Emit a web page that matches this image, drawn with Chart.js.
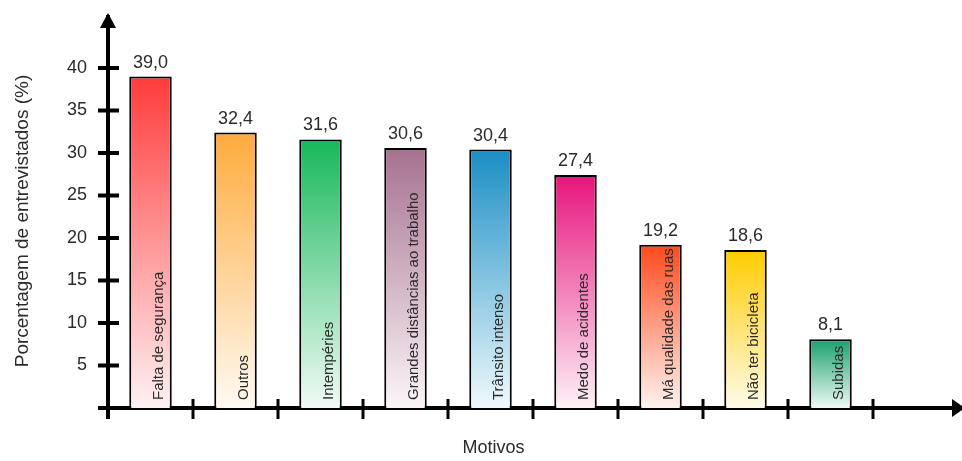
<!DOCTYPE html>
<html>
<head>
<meta charset="utf-8">
<script src="https://cdn.jsdelivr.net/npm/chart.js@4/dist/chart.umd.min.js"></script>
<style>
  html, body { margin: 0; padding: 0; background: #ffffff; }
  #wrap { width: 962px; height: 461px; }
</style>
</head>
<body>
<div id="wrap"><canvas id="grafico" width="962" height="461"></canvas></div>
<script>
// Motivos citados e percentual de entrevistados
const motivos = [
  'Falta de segurança', 'Outros', 'Intempéries', 'Grandes distâncias ao trabalho',
  'Trânsito intenso', 'Medo de acidentes', 'Má qualidade das ruas', 'Não ter bicicleta', 'Subidas'
];
const percentuais = [39.0, 32.4, 31.6, 30.6, 30.4, 27.4, 19.2, 18.6, 8.1];
const yTicks = [5, 10, 15, 20, 25, 30, 35, 40];

// Degradê de cada barra: cor do topo e cor da base
const coresTopo = ['#ff3b3b', '#ffab3d', '#17b85a', '#a6718f', '#1a8ec4', '#e8157c', '#ff4a1c', '#ffcc00', '#19a06a'];
const coresBase = ['#fff1f3', '#fffaf2', '#f1fbf5', '#fbf5f8', '#eff9fd', '#fdf1f7', '#fff3ef', '#fffbe9', '#eefaf4'];

const FONTE = "'Liberation Sans', Arial, sans-serif";
const COR_TEXTO = '#2b2b2b';

const rotulos = [...motivos, ''];
const valores = [...percentuais, null];

function formatar(v) { return v.toFixed(1).replace('.', ','); }

// Eixos com marcas cruzadas, setas, títulos e rótulos das barras
const decoracao = {
  id: 'decoracao',
  afterDatasetsDraw(chart) {
    const { ctx } = chart;
    const meta = chart.getDatasetMeta(0);
    const y = chart.scales.y;
    ctx.save();
    meta.data.forEach((bar, i) => {
      const v = valores[i];
      if (v == null) return;
      // valor acima da barra
      ctx.fillStyle = COR_TEXTO;
      ctx.font = `18px ${FONTE}`;
      ctx.textAlign = 'center';
      ctx.textBaseline = 'alphabetic';
      ctx.fillText(formatar(v), bar.x, bar.y - 9);
      // nome do motivo, vertical, dentro da barra
      ctx.save();
      ctx.translate(bar.x + 12.5, y.getPixelForValue(0) - 8);
      ctx.rotate(-Math.PI / 2);
      ctx.font = `15px ${FONTE}`;
      ctx.textAlign = 'left';
      ctx.fillText(motivos[i], 0, 0);
      ctx.restore();
    });
    ctx.restore();
  },
  afterDraw(chart) {
    const { ctx, chartArea: a } = chart;
    const x = chart.scales.x, y = chart.scales.y;
    const y0 = y.getPixelForValue(0);
    ctx.save();
    ctx.strokeStyle = '#000';
    ctx.fillStyle = '#000';
    ctx.lineCap = 'butt';

    // marcas do eixo y
    ctx.lineWidth = 4;
    yTicks.forEach(t => {
      const py = y.getPixelForValue(t);
      ctx.beginPath(); ctx.moveTo(a.left - 10, py); ctx.lineTo(a.left + 11, py); ctx.stroke();
    });
    // prolongamentos na origem
    ctx.beginPath(); ctx.moveTo(a.left - 10, y0); ctx.lineTo(a.left, y0); ctx.stroke();
    ctx.beginPath(); ctx.moveTo(a.left, y0); ctx.lineTo(a.left, y0 + 11); ctx.stroke();

    // marcas do eixo x entre categorias
    ctx.lineWidth = 3;
    for (let i = 1; i <= motivos.length; i++) {
      const px = (x.getPixelForValue(i - 1) + x.getPixelForValue(i)) / 2;
      ctx.beginPath(); ctx.moveTo(px, y0 - 9); ctx.lineTo(px, y0 + 11); ctx.stroke();
    }

    // setas
    ctx.beginPath();
    ctx.moveTo(a.left, a.top - 4);
    ctx.lineTo(a.left - 8, a.top + 11);
    ctx.lineTo(a.left + 8, a.top + 11);
    ctx.closePath(); ctx.fill();
    ctx.beginPath();
    ctx.moveTo(a.right + 7, y0);
    ctx.lineTo(a.right - 6, y0 - 9);
    ctx.lineTo(a.right - 6, y0 + 9);
    ctx.closePath(); ctx.fill();

    // títulos dos eixos
    ctx.fillStyle = COR_TEXTO;
    ctx.font = `18px ${FONTE}`;
    ctx.textAlign = 'center';
    ctx.textBaseline = 'alphabetic';
    const centroX = (x.getPixelForValue(0) + x.getPixelForValue(motivos.length - 1)) / 2 + 3;
    ctx.fillText('Motivos', centroX, 453);

    ctx.save();
    ctx.translate(28, 221);
    ctx.rotate(-Math.PI / 2);
    ctx.font = `19px ${FONTE}`;
    ctx.fillText('Porcentagem de entrevistados (%)', 0, 0);
    ctx.restore();

    ctx.restore();
  }
};

new Chart(document.getElementById('grafico'), {
  type: 'bar',
  data: {
    labels: rotulos,
    datasets: [{
      data: valores,
      backgroundColor(c) {
        const chart = c.chart;
        const i = c.dataIndex;
        if (!chart.chartArea || c.type !== 'data' || valores[i] == null) return coresTopo[0];
        const y = chart.scales.y;
        const g = chart.ctx.createLinearGradient(0, y.getPixelForValue(valores[i]), 0, y.getPixelForValue(0));
        g.addColorStop(0, coresTopo[i]);
        g.addColorStop(1, coresBase[i]);
        return g;
      },
      borderColor: '#000',
      borderWidth: 2,
      borderSkipped: 'bottom',
      categoryPercentage: 1,
      barPercentage: 0.5
    }]
  },
  options: {
    responsive: false,
    animation: false,
    devicePixelRatio: 1,
    layout: { padding: { top: 17, right: 4, bottom: 0, left: 0 } },
    plugins: { legend: { display: false }, tooltip: { enabled: false } },
    scales: {
      x: {
        z: 1,
        offset: true,
        grid: { display: false, drawTicks: false },
        border: { display: true, color: '#000', width: 4 },
        ticks: { display: false },
        afterFit(s) { s.height = 53; s.paddingLeft = 0; s.paddingRight = 0; }
      },
      y: {
        z: 1,
        min: 0,
        max: 46,
        grid: { display: false, drawTicks: false },
        border: { display: true, color: '#000', width: 4 },
        ticks: {
          stepSize: 5,
          padding: 21,
          color: COR_TEXTO,
          font: { family: FONTE, size: 18 },
          callback: v => (yTicks.includes(v) ? String(v) : '')
        },
        afterFit(s) { s.width = 108; s.paddingTop = 0; s.paddingBottom = 0; }
      }
    }
  },
  plugins: [decoracao]
});
</script>
</body>
</html>
